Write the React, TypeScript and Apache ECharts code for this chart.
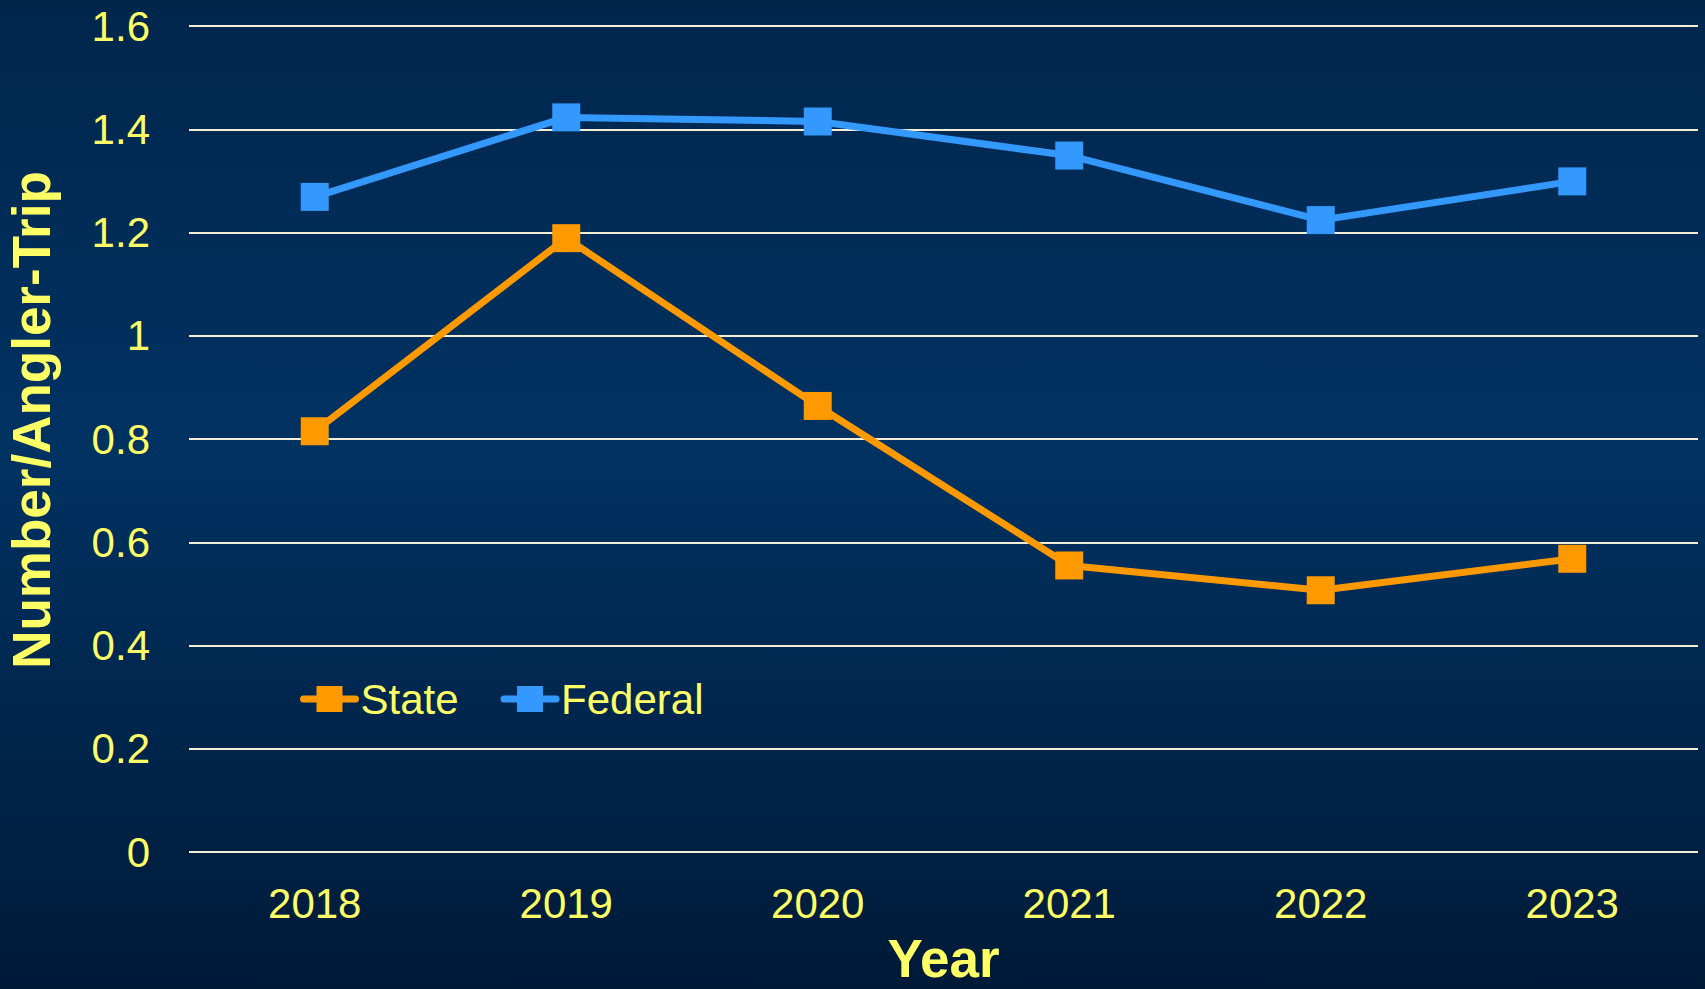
import React, { useEffect, useRef } from "react";
import * as echarts from "echarts";

const years = ["2018", "2019", "2020", "2021", "2022", "2023"];
const stateValues = [0.815, 1.189, 0.864, 0.555, 0.507, 0.568];
const federalValues = [1.269, 1.423, 1.415, 1.349, 1.224, 1.299];
const seriesNames = ["State", "Federal"];

const FONT = "'Liberation Sans', Arial, sans-serif";
const YELLOW = "#ffff66";
const ORANGE = "#ff9900";
const BLUE = "#3399ff";

export default function App() {
  const ref = useRef<HTMLDivElement>(null);

  useEffect(() => {
    document.body.style.margin = "0";
    const chart = echarts.init(ref.current!, null, { renderer: "svg" });
    chart.setOption({
      animation: false,
      backgroundColor: new echarts.graphic.LinearGradient(0, 0, 0, 1, [
        { offset: 0, color: "#00264c" },
        { offset: 0.45, color: "#003262" },
        { offset: 1, color: "#001a38" },
      ]),
      textStyle: { fontFamily: FONT },
      grid: {
        left: 189,
        right: 7,
        top: 26,
        bottom: 137,
        containLabel: false,
        outerBoundsMode: "none",
      },
      legend: {
        data: seriesNames,
        left: 300,
        top: 678,
        padding: 0,
        itemWidth: 52,
        itemHeight: 32.5,
        itemGap: 42,
        lineStyle: { width: 7, cap: "round" },
        textStyle: { color: YELLOW, fontSize: 42, fontFamily: FONT },
      },
      xAxis: {
        type: "category",
        data: years,
        boundaryGap: true,
        axisLine: { show: false },
        axisTick: { show: false },
        axisLabel: { color: YELLOW, fontSize: 42, margin: 30, fontFamily: FONT },
        name: "Year",
        nameLocation: "middle",
        nameGap: 81,
        nameTextStyle: {
          color: YELLOW,
          fontSize: 53,
          lineHeight: 51,
          fontWeight: "bold",
          fontFamily: FONT,
        },
      },
      yAxis: {
        type: "value",
        min: 0,
        max: 1.6,
        interval: 0.2,
        axisLine: { show: false },
        axisTick: { show: false },
        axisLabel: { color: YELLOW, fontSize: 42, margin: 39, fontFamily: FONT },
        splitLine: { lineStyle: { color: "#f3efd6", width: 2 } },
        name: "Number/Angler-Trip",
        nameLocation: "middle",
        nameGap: 131,
        nameTextStyle: {
          color: YELLOW,
          fontSize: 53,
          fontWeight: "bold",
          fontFamily: FONT,
          padding: [0, 0, 0, 38],
        },
      },
      series: [
        {
          name: seriesNames[0],
          type: "line",
          data: stateValues,
          symbol: "rect",
          symbolSize: 28,
          color: ORANGE,
          lineStyle: { color: ORANGE, width: 7 },
          itemStyle: { color: ORANGE },
        },
        {
          name: seriesNames[1],
          type: "line",
          data: federalValues,
          symbol: "rect",
          symbolSize: 28,
          color: BLUE,
          lineStyle: { color: BLUE, width: 7 },
          itemStyle: { color: BLUE },
        },
      ],
    });
    return () => chart.dispose();
  }, []);

  return <div ref={ref} style={{ width: 1705, height: 989 }} />;
}
